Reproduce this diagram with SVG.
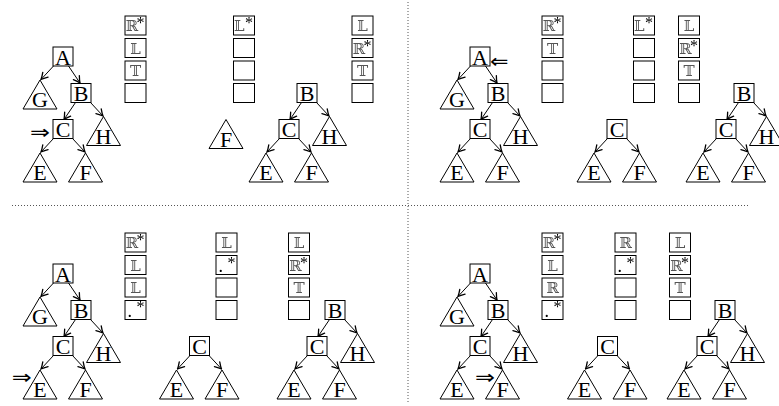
<svg xmlns="http://www.w3.org/2000/svg" width="779" height="406" viewBox="0 0 779 406">
<defs>
<marker id="ah" viewBox="-8 -5 9 10" refX="0" refY="0" markerWidth="9" markerHeight="10" orient="auto" markerUnits="userSpaceOnUse">
<path d="M-6.5,-3.6 Q-2.5,-1 0,0 Q-2.5,1 -6.5,3.6" fill="none" stroke="#000" stroke-width="1.3" stroke-linecap="round"/>
</marker>
<filter id="gs" x="-20%" y="-20%" width="140%" height="140%"><feColorMatrix type="saturate" values="0"/></filter>
</defs>
<style>
.n rect,.n polygon{fill:#fff;stroke:#000;stroke-width:1}
.lbl{font-family:"Liberation Serif",serif;font-size:22px;text-anchor:middle;fill:#000}
.cell{fill:#fff;stroke:#000;stroke-width:1}
.bb{font-family:"DejaVu Serif","DejaVu Sans",serif;font-size:15px;fill:#555;filter:url(#gs)}
.bbc{font-family:"DejaVu Serif","DejaVu Sans",serif;font-size:15px;fill:#555;text-anchor:middle;filter:url(#gs)}
.sup{font-family:"Liberation Serif",serif;font-size:16px;fill:#000;filter:url(#gs)}
.dot{font-family:"Liberation Serif",serif;font-size:18px;fill:#000;filter:url(#gs)}
.e path{stroke:#000;stroke-width:1;fill:none;marker-end:url(#ah)}
.sep{stroke:#555;stroke-width:1;stroke-dasharray:1 2;fill:none}
.arr{font-family:"DejaVu Sans",sans-serif;font-size:20px;fill:#000}
</style>
<rect width="779" height="406" fill="#fff"/>
<g id="separators">
<line class="sep" x1="408" y1="2" x2="408" y2="404"/>
<line class="sep" x1="12" y1="205.5" x2="750" y2="205.5"/>
</g>
<g id="connectors" class="e">
<g id="full-edges-p1"><path d="M53.5,66L41,79.5"/><path d="M68.5,66L80,83"/><path d="M75.5,102.5L64,119.5"/><path d="M90.5,102.5L103,116"/><path d="M53.5,138.5L41,152"/><path d="M72.5,138.5L85,152"/></g>
<g id="full-edges-p3" transform="translate(417,0)"><path d="M53.5,66L41,79.5"/><path d="M68.5,66L80,83"/><path d="M75.5,102.5L64,119.5"/><path d="M90.5,102.5L103,116"/><path d="M53.5,138.5L41,152"/><path d="M72.5,138.5L85,152"/></g>
<g id="full-edges-p5" transform="translate(0,217)"><path d="M53.5,66L41,79.5"/><path d="M68.5,66L80,83"/><path d="M75.5,102.5L64,119.5"/><path d="M90.5,102.5L103,116"/><path d="M53.5,138.5L41,152"/><path d="M72.5,138.5L85,152"/></g>
<g id="full-edges-p7" transform="translate(417,217)"><path d="M53.5,66L41,79.5"/><path d="M68.5,66L80,83"/><path d="M75.5,102.5L64,119.5"/><path d="M90.5,102.5L103,116"/><path d="M53.5,138.5L41,152"/><path d="M72.5,138.5L85,152"/></g>
<g id="b-edges-p2"><path d="M301.5,102.5L290,119.5"/><path d="M316.5,102.5L329,116"/><path d="M279.5,138.5L267,152"/><path d="M298.5,138.5L311,152"/></g>
<g id="b-edges-p4" transform="translate(437,0)"><path d="M301.5,102.5L290,119.5"/><path d="M316.5,102.5L329,116"/><path d="M279.5,138.5L267,152"/><path d="M298.5,138.5L311,152"/></g>
<g id="b-edges-p6" transform="translate(28,217)"><path d="M301.5,102.5L290,119.5"/><path d="M316.5,102.5L329,116"/><path d="M279.5,138.5L267,152"/><path d="M298.5,138.5L311,152"/></g>
<g id="b-edges-p8" transform="translate(418,217)"><path d="M301.5,102.5L290,119.5"/><path d="M316.5,102.5L329,116"/><path d="M279.5,138.5L267,152"/><path d="M298.5,138.5L311,152"/></g>
<g id="c-edges-p4"><path d="M607.5,138.5L595,152"/><path d="M626.5,138.5L639,152"/></g>
<g id="c-edges-p6" transform="translate(-417.5,217)"><path d="M607.5,138.5L595,152"/><path d="M626.5,138.5L639,152"/></g>
<g id="c-edges-p8" transform="translate(-9.5,217)"><path d="M607.5,138.5L595,152"/><path d="M626.5,138.5L639,152"/></g>
</g>
<g id="panel1">
<g id="p1-A" class="n"><rect x="53" y="47" width="20" height="19"/><text class="lbl" x="63" y="64.5">A</text></g>
<g id="p1-G" class="n"><polygon points="40,80 23,109 57,109"/><text class="lbl" x="40" y="107">G</text></g>
<g id="p1-B" class="n"><rect x="71" y="83.5" width="20" height="19"/><text class="lbl" x="81" y="101">B</text></g>
<g id="p1-H" class="n"><polygon points="103.5,116.5 86.5,145.5 120.5,145.5"/><text class="lbl" x="103.5" y="143.5">H</text></g>
<g id="p1-C" class="n"><rect x="53" y="119.5" width="20" height="19"/><text class="lbl" x="63" y="137">C</text></g>
<g id="p1-E" class="n"><polygon points="40,153 23,182 57,182"/><text class="lbl" x="40" y="180">E</text></g>
<g id="p1-F" class="n"><polygon points="85.5,153 68.5,182 102.5,182"/><text class="lbl" x="85.5" y="180">F</text></g>
<text id="p1-pointer" class="arr" x="30" y="138.5" textLength="20" lengthAdjust="spacingAndGlyphs">⇒</text>
<g id="p1-stack"><rect class="cell" x="125" y="16" width="21" height="19"/><rect class="cell" x="125" y="38.5" width="21" height="19"/><rect class="cell" x="125" y="61" width="21" height="19"/><rect class="cell" x="125" y="83.5" width="21" height="19"/>
<text class="bb" x="125.5" y="31">ℝ</text><text class="sup" x="136.5" y="28">*</text>
<text class="bbc" x="135.5" y="53.5">𝕃</text><text class="bbc" x="135.5" y="76">𝕋</text></g>
</g>
<g id="panel2">
<g id="p2-F1" class="n"><polygon points="226,119.5 209,148.5 243,148.5"/><text class="lbl" x="226" y="146.5">F</text></g>
<g id="p2-B" class="n"><rect x="297" y="83.5" width="20" height="19"/><text class="lbl" x="307" y="101">B</text></g>
<g id="p2-C" class="n"><rect x="279" y="119.5" width="20" height="19"/><text class="lbl" x="289" y="137">C</text></g>
<g id="p2-H" class="n"><polygon points="329.5,116.5 312.5,145.5 346.5,145.5"/><text class="lbl" x="329.5" y="143.5">H</text></g>
<g id="p2-E" class="n"><polygon points="266,153 249,182 283,182"/><text class="lbl" x="266" y="180">E</text></g>
<g id="p2-F" class="n"><polygon points="311.5,153 294.5,182 328.5,182"/><text class="lbl" x="311.5" y="180">F</text></g>
<g id="p2-stack1"><rect class="cell" x="233.5" y="16" width="21" height="19"/><rect class="cell" x="233.5" y="38.5" width="21" height="19"/><rect class="cell" x="233.5" y="61" width="21" height="19"/><rect class="cell" x="233.5" y="83.5" width="21" height="19"/>
<text class="bb" x="234" y="31">𝕃</text><text class="sup" x="245" y="28">*</text></g>
<g id="p2-stack2"><rect class="cell" x="352" y="16" width="21" height="19"/><rect class="cell" x="352" y="38.5" width="21" height="19"/><rect class="cell" x="352" y="61" width="21" height="19"/><rect class="cell" x="352" y="83.5" width="21" height="19"/>
<text class="bbc" x="362.5" y="31">𝕃</text><text class="bb" x="352.5" y="53.5">ℝ</text><text class="sup" x="363.5" y="50.5">*</text><text class="bbc" x="362.5" y="76">𝕋</text></g>
</g>
<g id="panel3" transform="translate(417,0)">
<g id="p3-A" class="n"><rect x="53" y="47" width="20" height="19"/><text class="lbl" x="63" y="64.5">A</text></g>
<g id="p3-G" class="n"><polygon points="40,80 23,109 57,109"/><text class="lbl" x="40" y="107">G</text></g>
<g id="p3-B" class="n"><rect x="71" y="83.5" width="20" height="19"/><text class="lbl" x="81" y="101">B</text></g>
<g id="p3-H" class="n"><polygon points="103.5,116.5 86.5,145.5 120.5,145.5"/><text class="lbl" x="103.5" y="143.5">H</text></g>
<g id="p3-C" class="n"><rect x="53" y="119.5" width="20" height="19"/><text class="lbl" x="63" y="137">C</text></g>
<g id="p3-E" class="n"><polygon points="40,153 23,182 57,182"/><text class="lbl" x="40" y="180">E</text></g>
<g id="p3-F" class="n"><polygon points="85.5,153 68.5,182 102.5,182"/><text class="lbl" x="85.5" y="180">F</text></g>
<text id="p3-pointer" class="arr" x="73" y="67.5" textLength="18.5" lengthAdjust="spacingAndGlyphs">⇐</text>
<g id="p3-stack"><rect class="cell" x="125" y="16" width="21" height="19"/><rect class="cell" x="125" y="38.5" width="21" height="19"/><rect class="cell" x="125" y="61" width="21" height="19"/><rect class="cell" x="125" y="83.5" width="21" height="19"/>
<text class="bb" x="125.5" y="31">ℝ</text><text class="sup" x="136.5" y="28">*</text>
<text class="bbc" x="135.5" y="53.5">𝕋</text></g>
</g>
<g id="panel4">
<g id="p4-C1" class="n"><rect x="607" y="119.5" width="20" height="19"/><text class="lbl" x="617" y="137">C</text></g>
<g id="p4-E1" class="n"><polygon points="594,153 577,182 611,182"/><text class="lbl" x="594" y="180">E</text></g>
<g id="p4-F1" class="n"><polygon points="639.5,153 622.5,182 656.5,182"/><text class="lbl" x="639.5" y="180">F</text></g>
<g transform="translate(437,0)">
<g id="p4-B" class="n"><rect x="297" y="83.5" width="20" height="19"/><text class="lbl" x="307" y="101">B</text></g>
<g id="p4-C" class="n"><rect x="279" y="119.5" width="20" height="19"/><text class="lbl" x="289" y="137">C</text></g>
<g id="p4-H" class="n"><polygon points="329.5,116.5 312.5,145.5 346.5,145.5"/><text class="lbl" x="329.5" y="143.5">H</text></g>
<g id="p4-E" class="n"><polygon points="266,153 249,182 283,182"/><text class="lbl" x="266" y="180">E</text></g>
<g id="p4-F" class="n"><polygon points="311.5,153 294.5,182 328.5,182"/><text class="lbl" x="311.5" y="180">F</text></g>
</g>
<g id="p4-stack1"><rect class="cell" x="633.5" y="16" width="21" height="19"/><rect class="cell" x="633.5" y="38.5" width="21" height="19"/><rect class="cell" x="633.5" y="61" width="21" height="19"/><rect class="cell" x="633.5" y="83.5" width="21" height="19"/>
<text class="bb" x="634" y="31">𝕃</text><text class="sup" x="645" y="28">*</text></g>
<g id="p4-stack2"><rect class="cell" x="678.5" y="16" width="21" height="19"/><rect class="cell" x="678.5" y="38.5" width="21" height="19"/><rect class="cell" x="678.5" y="61" width="21" height="19"/><rect class="cell" x="678.5" y="83.5" width="21" height="19"/>
<text class="bbc" x="689" y="31">𝕃</text><text class="bb" x="679" y="53.5">ℝ</text><text class="sup" x="690" y="50.5">*</text><text class="bbc" x="689" y="76">𝕋</text></g>
</g>
<g id="panel5" transform="translate(0,217)">
<g id="p5-A" class="n"><rect x="53" y="47" width="20" height="19"/><text class="lbl" x="63" y="64.5">A</text></g>
<g id="p5-G" class="n"><polygon points="40,80 23,109 57,109"/><text class="lbl" x="40" y="107">G</text></g>
<g id="p5-B" class="n"><rect x="71" y="83.5" width="20" height="19"/><text class="lbl" x="81" y="101">B</text></g>
<g id="p5-H" class="n"><polygon points="103.5,116.5 86.5,145.5 120.5,145.5"/><text class="lbl" x="103.5" y="143.5">H</text></g>
<g id="p5-C" class="n"><rect x="53" y="119.5" width="20" height="19"/><text class="lbl" x="63" y="137">C</text></g>
<g id="p5-E" class="n"><polygon points="40,153 23,182 57,182"/><text class="lbl" x="40" y="180">E</text></g>
<g id="p5-F" class="n"><polygon points="85.5,153 68.5,182 102.5,182"/><text class="lbl" x="85.5" y="180">F</text></g>
<text id="p5-pointer" class="arr" x="11.7" y="167" textLength="20" lengthAdjust="spacingAndGlyphs">⇒</text>
<g id="p5-stack"><rect class="cell" x="125" y="16" width="21" height="19"/><rect class="cell" x="125" y="38.5" width="21" height="19"/><rect class="cell" x="125" y="61" width="21" height="19"/><rect class="cell" x="125" y="83.5" width="21" height="19"/>
<text class="bb" x="125.5" y="31">ℝ</text><text class="sup" x="136.5" y="28">*</text>
<text class="bbc" x="135.5" y="53.5">𝕃</text><text class="bbc" x="135.5" y="76">𝕃</text>
<text class="dot" x="127.5" y="100">.</text><text class="sup" x="136.5" y="95">*</text></g>
</g>
<g id="panel6">
<g transform="translate(-417.5,217)">
<g id="p6-C1" class="n"><rect x="607" y="119.5" width="20" height="19"/><text class="lbl" x="617" y="137">C</text></g>
<g id="p6-E1" class="n"><polygon points="594,153 577,182 611,182"/><text class="lbl" x="594" y="180">E</text></g>
<g id="p6-F1" class="n"><polygon points="639.5,153 622.5,182 656.5,182"/><text class="lbl" x="639.5" y="180">F</text></g>
</g>
<g transform="translate(28,217)">
<g id="p6-B" class="n"><rect x="297" y="83.5" width="20" height="19"/><text class="lbl" x="307" y="101">B</text></g>
<g id="p6-C" class="n"><rect x="279" y="119.5" width="20" height="19"/><text class="lbl" x="289" y="137">C</text></g>
<g id="p6-H" class="n"><polygon points="329.5,116.5 312.5,145.5 346.5,145.5"/><text class="lbl" x="329.5" y="143.5">H</text></g>
<g id="p6-E" class="n"><polygon points="266,153 249,182 283,182"/><text class="lbl" x="266" y="180">E</text></g>
<g id="p6-F" class="n"><polygon points="311.5,153 294.5,182 328.5,182"/><text class="lbl" x="311.5" y="180">F</text></g>
</g>
<g id="p6-stack1" transform="translate(0,217)"><rect class="cell" x="216" y="16" width="21" height="19"/><rect class="cell" x="216" y="38.5" width="21" height="19"/><rect class="cell" x="216" y="61" width="21" height="19"/><rect class="cell" x="216" y="83.5" width="21" height="19"/>
<text class="bbc" x="226.5" y="31">𝕃</text><text class="dot" x="218.5" y="55">.</text><text class="sup" x="227.5" y="50.5">*</text></g>
<g id="p6-stack2" transform="translate(0,217)"><rect class="cell" x="288.5" y="16" width="21" height="19"/><rect class="cell" x="288.5" y="38.5" width="21" height="19"/><rect class="cell" x="288.5" y="61" width="21" height="19"/><rect class="cell" x="288.5" y="83.5" width="21" height="19"/>
<text class="bbc" x="299" y="31">𝕃</text><text class="bb" x="289" y="53.5">ℝ</text><text class="sup" x="300" y="50.5">*</text><text class="bbc" x="299" y="76">𝕋</text></g>
</g>
<g id="panel7" transform="translate(417,217)">
<g id="p7-A" class="n"><rect x="53" y="47" width="20" height="19"/><text class="lbl" x="63" y="64.5">A</text></g>
<g id="p7-G" class="n"><polygon points="40,80 23,109 57,109"/><text class="lbl" x="40" y="107">G</text></g>
<g id="p7-B" class="n"><rect x="71" y="83.5" width="20" height="19"/><text class="lbl" x="81" y="101">B</text></g>
<g id="p7-H" class="n"><polygon points="103.5,116.5 86.5,145.5 120.5,145.5"/><text class="lbl" x="103.5" y="143.5">H</text></g>
<g id="p7-C" class="n"><rect x="53" y="119.5" width="20" height="19"/><text class="lbl" x="63" y="137">C</text></g>
<g id="p7-E" class="n"><polygon points="40,153 23,182 57,182"/><text class="lbl" x="40" y="180">E</text></g>
<g id="p7-F" class="n"><polygon points="85.5,153 68.5,182 102.5,182"/><text class="lbl" x="85.5" y="180">F</text></g>
<text id="p7-pointer" class="arr" x="58" y="167" textLength="20" lengthAdjust="spacingAndGlyphs">⇒</text>
<g id="p7-stack"><rect class="cell" x="125" y="16" width="21" height="19"/><rect class="cell" x="125" y="38.5" width="21" height="19"/><rect class="cell" x="125" y="61" width="21" height="19"/><rect class="cell" x="125" y="83.5" width="21" height="19"/>
<text class="bb" x="125.5" y="31">ℝ</text><text class="sup" x="136.5" y="28">*</text>
<text class="bbc" x="135.5" y="53.5">𝕃</text><text class="bbc" x="135.5" y="76">ℝ</text>
<text class="dot" x="127.5" y="100">.</text><text class="sup" x="136.5" y="95">*</text></g>
</g>
<g id="panel8">
<g transform="translate(-9.5,217)">
<g id="p8-C1" class="n"><rect x="607" y="119.5" width="20" height="19"/><text class="lbl" x="617" y="137">C</text></g>
<g id="p8-E1" class="n"><polygon points="594,153 577,182 611,182"/><text class="lbl" x="594" y="180">E</text></g>
<g id="p8-F1" class="n"><polygon points="639.5,153 622.5,182 656.5,182"/><text class="lbl" x="639.5" y="180">F</text></g>
</g>
<g transform="translate(418,217)">
<g id="p8-B" class="n"><rect x="297" y="83.5" width="20" height="19"/><text class="lbl" x="307" y="101">B</text></g>
<g id="p8-C" class="n"><rect x="279" y="119.5" width="20" height="19"/><text class="lbl" x="289" y="137">C</text></g>
<g id="p8-H" class="n"><polygon points="329.5,116.5 312.5,145.5 346.5,145.5"/><text class="lbl" x="329.5" y="143.5">H</text></g>
<g id="p8-E" class="n"><polygon points="266,153 249,182 283,182"/><text class="lbl" x="266" y="180">E</text></g>
<g id="p8-F" class="n"><polygon points="311.5,153 294.5,182 328.5,182"/><text class="lbl" x="311.5" y="180">F</text></g>
</g>
<g id="p8-stack1" transform="translate(0,217)"><rect class="cell" x="615" y="16" width="21" height="19"/><rect class="cell" x="615" y="38.5" width="21" height="19"/><rect class="cell" x="615" y="61" width="21" height="19"/><rect class="cell" x="615" y="83.5" width="21" height="19"/>
<text class="bbc" x="625.5" y="31">ℝ</text><text class="dot" x="617.5" y="55">.</text><text class="sup" x="626.5" y="50.5">*</text></g>
<g id="p8-stack2" transform="translate(0,217)"><rect class="cell" x="669.5" y="16" width="21" height="19"/><rect class="cell" x="669.5" y="38.5" width="21" height="19"/><rect class="cell" x="669.5" y="61" width="21" height="19"/><rect class="cell" x="669.5" y="83.5" width="21" height="19"/>
<text class="bbc" x="680" y="31">𝕃</text><text class="bb" x="670" y="53.5">ℝ</text><text class="sup" x="681" y="50.5">*</text><text class="bbc" x="680" y="76">𝕋</text></g>
</g>
</svg>
